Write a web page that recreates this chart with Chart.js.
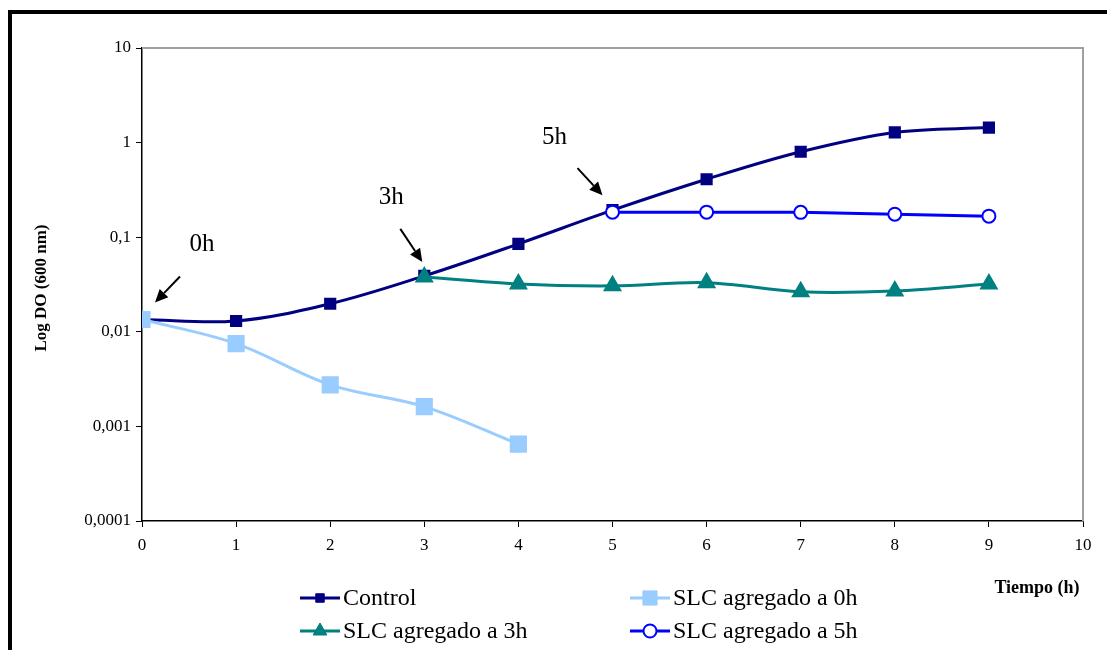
<!DOCTYPE html>
<html>
<head>
<meta charset="utf-8">
<script src="https://cdn.jsdelivr.net/npm/chart.js@4.4.1/dist/chart.umd.min.js"></script>
<style>
  html, body { margin: 0; padding: 0; background: #fff; }
  #wrap { position: relative; width: 1107px; height: 650px; overflow: hidden; }
  #frame { position: absolute; left: 8px; top: 10px; width: 1200px; height: 700px;
           border-top: 4px solid #000; border-left: 4px solid #000; pointer-events: none; }
  canvas { position: absolute; left: 0; top: 0; }
</style>
</head>
<body>
<div id="wrap">
  <canvas id="myChart" width="1107" height="650"></canvas>
  <div id="frame"></div>
</div>
<script>
// Données
const hours = [0, 1, 2, 3, 4, 5, 6, 7, 8, 9];
const control = [0.0135, 0.013, 0.0198, 0.039, 0.085, 0.193, 0.41, 0.80, 1.28, 1.44];
const slc0h = [0.0135, 0.0075, 0.00275, 0.00162, 0.00065];
const slc3h = [0.038, 0.032, 0.0306, 0.033, 0.0265, 0.027, 0.032];
const slc5h = [0.184, 0.184, 0.183, 0.175, 0.167];
const yTicks = [0.0001, 0.001, 0.01, 0.1, 1, 10];
const seriesNames = ['Control', 'SLC agregado a 0h', 'SLC agregado a 3h', 'SLC agregado a 5h'];

const serif = '"Liberation Serif", "DejaVu Serif", serif';

function pts(xs, ys) {
  return ys.map((v, i) => ({ x: xs[i], y: v }));
}

// Flèches et étiquettes (ancrées sur les points de la courbe Control)
const notes = [
  { text: '0h', x: 0, y: control[0], dx: 13, dy: -17, ax: 25, ay: -26, tx: 47, ty: -58 },
  { text: '3h', x: 3, y: control[3], dx: -2, dy: -14, ax: -22, ay: -33, tx: -31, ty: -64 },
  { text: '5h', x: 5, y: control[5], dx: -10, dy: -15, ax: -25, ay: -27, tx: -48, ty: -58 }
];

const annotPlugin = {
  id: 'annot',
  afterDraw(chart) {
    const ctx = chart.ctx;
    const xs = chart.scales.x, ys = chart.scales.y;
    const area = chart.chartArea;
    ctx.save();
    // bordure grise haut / droite
    ctx.strokeStyle = '#a0a0a0';
    ctx.lineWidth = 2;
    ctx.beginPath();
    ctx.moveTo(area.left, area.top);
    ctx.lineTo(area.right, area.top);
    ctx.lineTo(area.right, area.bottom);
    ctx.stroke();

    notes.forEach(n => {
      const px0 = xs.getPixelForValue(n.x);
      const py0 = ys.getPixelForValue(n.y);
      const px = px0 + n.dx, py = py0 + n.dy;
      const fromX = px + n.ax, fromY = py + n.ay;
      ctx.strokeStyle = '#000';
      ctx.fillStyle = '#000';
      ctx.lineWidth = 2;
      const ang = Math.atan2(py - fromY, px - fromX);
      const hl = 13, hw = 6;
      const bx = px - hl * Math.cos(ang), by = py - hl * Math.sin(ang);
      ctx.beginPath();
      ctx.moveTo(fromX, fromY);
      ctx.lineTo(bx, by);
      ctx.stroke();
      ctx.beginPath();
      ctx.moveTo(px, py);
      ctx.lineTo(bx + hw * Math.sin(ang), by - hw * Math.cos(ang));
      ctx.lineTo(bx - hw * Math.sin(ang), by + hw * Math.cos(ang));
      ctx.closePath();
      ctx.fill();
      // texte
      ctx.font = '25px ' + serif;
      ctx.textAlign = 'center';
      ctx.textBaseline = 'middle';
      ctx.fillText(n.text, px + n.tx, py + n.ty);
    });

    // titre de l'axe des y
    ctx.font = 'bold 17px ' + serif;
    ctx.textAlign = 'center';
    ctx.textBaseline = 'middle';
    ctx.translate(42, 288);
    ctx.rotate(-Math.PI / 2);
    ctx.fillText('Log DO (600 nm)', 0, 0);
    ctx.restore();

    // titre de l'axe des x
    ctx.save();
    ctx.font = 'bold 18px ' + serif;
    ctx.textAlign = 'center';
    ctx.textBaseline = 'middle';
    ctx.fillStyle = '#000';
    ctx.fillText('Tiempo (h)', 1037, 588);

    // légende 2 x 2
    const slots = [[300, 598], [630, 598], [300, 631], [630, 631]];
    chart.data.datasets.forEach((ds, i) => {
      const [lx, ly] = slots[i];
      ctx.strokeStyle = ds.borderColor;
      ctx.lineWidth = 3;
      ctx.beginPath();
      ctx.moveTo(lx, ly);
      ctx.lineTo(lx + 40, ly);
      ctx.stroke();
      ctx.save();
      ctx.fillStyle = ds.pointBackgroundColor;
      ctx.strokeStyle = ds.pointBorderColor;
      ctx.lineWidth = ds.pointBorderWidth || 1;
      Chart.helpers.drawPoint(ctx, {
        pointStyle: ds.pointStyle,
        radius: ds.legendRadius,
        borderWidth: ds.pointBorderWidth || 1
      }, lx + 20, ly);
      ctx.restore();
      ctx.fillStyle = '#000';
      ctx.font = '24px ' + serif;
      ctx.textAlign = 'left';
      ctx.textBaseline = 'middle';
      ctx.fillText(ds.label, lx + 43, ly + 1);
    });
    ctx.restore();
  }
};

const ctx = document.getElementById('myChart').getContext('2d');
const myChart = new Chart(ctx, {
  type: 'line',
  data: {
    datasets: [
      {
        label: seriesNames[0],
        data: pts(hours, control),
        borderColor: '#000080',
        pointBackgroundColor: '#000080',
        pointBorderColor: '#000080',
        pointStyle: 'rect',
        pointRadius: 6.5,
        legendRadius: 6,
        borderWidth: 3,
        tension: 0.35,
        order: 4
      },
      {
        label: seriesNames[1],
        data: pts(hours, slc0h),
        borderColor: '#99CCFF',
        pointBackgroundColor: '#99CCFF',
        pointBorderColor: '#99CCFF',
        pointStyle: 'rect',
        pointRadius: 10,
        legendRadius: 10,
        borderWidth: 3,
        tension: 0.35,
        order: 3
      },
      {
        label: seriesNames[2],
        data: pts(hours.slice(3), slc3h),
        borderColor: '#008080',
        pointBackgroundColor: '#008080',
        pointBorderColor: '#008080',
        pointStyle: 'triangle',
        pointRadius: 8,
        legendRadius: 8,
        borderWidth: 3,
        tension: 0.35,
        order: 2
      },
      {
        label: seriesNames[3],
        data: pts(hours.slice(5), slc5h),
        borderColor: '#0000FF',
        pointBackgroundColor: '#FFFFFF',
        pointBorderColor: '#0000FF',
        pointBorderWidth: 2,
        pointStyle: 'circle',
        pointRadius: 6.5,
        legendRadius: 6.5,
        borderWidth: 3,
        tension: 0.35,
        order: 1
      }
    ]
  },
  options: {
    responsive: false,
    animation: false,
    layout: { padding: { left: 0, top: 48, right: 24, bottom: 99 } },
    plugins: {
      legend: { display: false },
      tooltip: { enabled: false }
    },
    scales: {
      x: {
        type: 'linear',
        min: 0,
        max: 10,
        afterFit: s => { s.height = 30; },
        ticks: {
          stepSize: 1,
          color: '#000',
          font: { family: serif, size: 17 },
          padding: 8
        },
        grid: { drawOnChartArea: false, drawTicks: true, tickLength: 6, color: '#000' },
        border: { color: '#000', width: 1.5 }
      },
      y: {
        type: 'logarithmic',
        min: 0.0001,
        max: 10,
        afterFit: s => { s.width = 142; },
        afterBuildTicks: s => { s.ticks = yTicks.map(v => ({ value: v })); },
        ticks: {
          color: '#000',
          font: { family: serif, size: 17 },
          padding: 5,
          callback: v => String(v).replace('.', ',')
        },
        grid: { drawOnChartArea: false, drawTicks: true, tickLength: 6, color: '#000' },
        border: { color: '#000', width: 1.5 }
      }
    }
  },
  plugins: [annotPlugin]
});
</script>
</body>
</html>
